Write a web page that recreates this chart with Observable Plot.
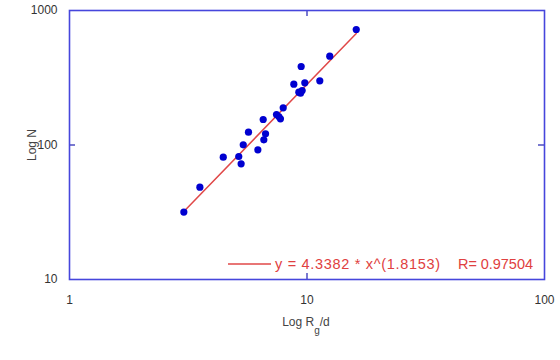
<!DOCTYPE html>
<html>
<head>
<meta charset="utf-8">
<script src="https://cdn.jsdelivr.net/npm/d3@7"></script>
<script src="https://cdn.jsdelivr.net/npm/@observablehq/plot@0.6"></script>
<style>
  body { margin: 0; background: #fff; }
  #chart { position: relative; width: 560px; height: 360px; }
</style>
</head>
<body>
<div id="chart"></div>
<script>
// Data
const rgd = [3.03, 3.54, 4.44, 5.16, 5.28, 5.39, 5.67, 6.21, 6.58, 6.69, 6.54, 7.44,
             7.61, 7.73, 7.94, 9.24, 9.54, 9.39, 8.80, 9.79, 11.32, 9.45, 12.47, 16.12];
const nVals = [31.7, 48.6, 81.2, 82.1, 72.5, 100.3, 124.5, 92.1, 109.3, 121.1, 154.7, 168.6,
               162.9, 156.6, 189.1, 247.0, 254.2, 242.7, 283.1, 290.0, 300.1, 383.5, 457.3, 722.5];
const fitX = [3.03, 16.12];
const fitY = [32.0, 674.0];
const xTicks = [1, 10, 100];
const yTicks = [10, 100, 1000];
const legendEq = "y = 4.3382 * x^(1.8153)";
const legendR = "R= 0.97504";

const points = rgd.map((x, i) => ({x, y: nVals[i]}));
const fit = fitX.map((x, i) => ({x, y: fitY[i]}));

const W = 560, H = 360;
const mL = 69, mR = 16, mT = 10, mB = 81;
const frameColor = "#4646dc";
const font = "'Liberation Sans', Arial, sans-serif";

const chart = Plot.plot({
  width: W, height: H,
  marginLeft: mL, marginRight: mR, marginTop: mT, marginBottom: mB,
  style: {fontFamily: font, fontSize: "12px", color: "#333", background: "#fff"},
  x: {type: "log", domain: [1, 100], label: null},
  y: {type: "log", domain: [10, 1000], label: null},
  marks: [
    Plot.axisX(xTicks, {tickSize: 0, tickPadding: 16, tickFormat: d => String(d), fontSize: 12, fill: "#333"}),
    Plot.axisY(yTicks, {tickSize: 0, tickPadding: 12, tickFormat: d => String(d), fontSize: 12, fill: "#333"}),
    // inward ticks
    Plot.ruleX([10], {insetTop: H - mT - mB - 6, stroke: "#2020b0", strokeWidth: 1.2}),
    Plot.ruleX([10], {insetBottom: H - mT - mB - 6, stroke: "#2020b0", strokeWidth: 1.2}),
    Plot.ruleY([100], {insetLeft: W - mL - mR - 6, stroke: "#2020b0", strokeWidth: 1.2}),
    Plot.ruleY([100], {insetRight: W - mL - mR - 6, stroke: "#2020b0", strokeWidth: 1.2}),
    Plot.line(fit, {x: "x", y: "y", stroke: "#e04848", strokeWidth: 1.5}),
    Plot.dot(points, {x: "x", y: "y", r: 3.6, fill: "#0000d0", stroke: "none"}),
    Plot.frame({stroke: frameColor, strokeWidth: 1.6})
  ]
});

document.getElementById("chart").appendChild(chart);

const svg = d3.select(chart);
// Legend
svg.append("line")
  .attr("x1", 228).attr("x2", 271).attr("y1", 264).attr("y2", 264)
  .attr("stroke", "#e04848").attr("stroke-width", 1.5);
svg.append("text")
  .attr("x", 275).attr("y", 269)
  .attr("text-anchor", "start")
  .attr("textLength", 165).attr("lengthAdjust", "spacing")
  .attr("fill", "#e04040").attr("font-family", font).attr("font-size", 14.5)
  .text(legendEq);
svg.append("text")
  .attr("x", 458).attr("y", 269)
  .attr("text-anchor", "start")
  .attr("textLength", 75).attr("lengthAdjust", "spacing")
  .attr("fill", "#e04040").attr("font-family", font).attr("font-size", 14.5)
  .text(legendR);

// Y axis label
svg.append("text")
  .attr("transform", "translate(36,145) rotate(-90)")
  .attr("text-anchor", "middle")
  .attr("fill", "#444").attr("font-family", font).attr("font-size", 12)
  .text("Log N");

// X axis label with subscript
const xl = svg.append("text")
  .attr("x", 306).attr("y", 326)
  .attr("text-anchor", "middle")
  .attr("fill", "#444").attr("font-family", font).attr("font-size", 12);
xl.append("tspan").text("Log R");
xl.append("tspan").attr("dy", 8).attr("font-size", 10).text("g");
xl.append("tspan").attr("dy", -8).text("/d");
</script>
</body>
</html>
